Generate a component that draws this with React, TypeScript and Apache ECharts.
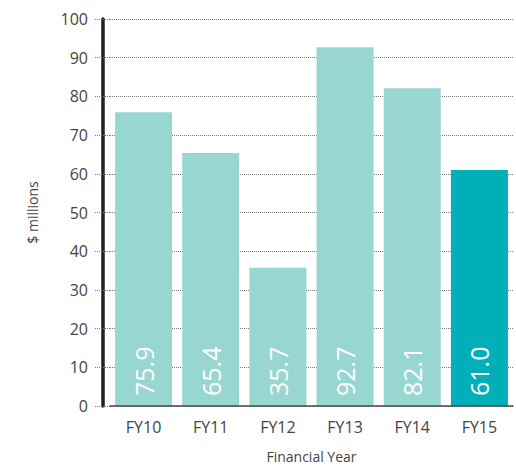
import React, { useEffect, useRef } from "react";
import * as echarts from "echarts";

const categories = ["FY10", "FY11", "FY12", "FY13", "FY14", "FY15"];
const values = [75.9, 65.4, 35.7, 92.7, 82.1, 61.0];
const barColors = ["#98d6d1", "#98d6d1", "#98d6d1", "#98d6d1", "#98d6d1", "#00afb8"];
const yTicks = { min: 0, max: 100, interval: 10 };

export default function App() {
  const ref = useRef<HTMLDivElement>(null);
  useEffect(() => {
    if (!ref.current) return;
    const chart = echarts.init(ref.current, undefined, { renderer: "svg" });
    const font = "'Open Sans', sans-serif";
    chart.setOption({
      animation: false,
      grid: { left: 110, right: 3, top: 19, bottom: 61 },
      xAxis: {
        type: "category",
        data: categories,
        axisLine: { show: true, lineStyle: { color: "#4a4a4a", width: 1.5 } },
        axisTick: { show: false },
        axisLabel: { color: "#444", fontSize: 16, fontFamily: font, margin: 13 },
        name: "Financial Year",
        nameLocation: "middle",
        nameGap: 43,
        nameTextStyle: { color: "#444", fontSize: 14, fontFamily: font },
        z: 5,
      },
      yAxis: [
        {
          type: "value",
          min: yTicks.min,
          max: yTicks.max,
          interval: yTicks.interval,
          axisLine: { show: false },
          axisTick: { show: true, length: 15, lineStyle: { color: "#777", type: [1, 1], width: 1 } },
          axisLabel: { color: "#444", fontSize: 16, fontFamily: font, margin: 22 },
          splitLine: { show: true, lineStyle: { color: "#777", type: [1, 1], width: 1 } },
        },
        {
          type: "value",
          position: "left",
          offset: 7,
          min: yTicks.min,
          max: yTicks.max,
          interval: yTicks.interval,
          axisLine: { show: true, lineStyle: { color: "#222", width: 3.5 } },
          axisTick: { show: false },
          axisLabel: { show: false },
          splitLine: { show: false },
          name: "$ millions",
          nameLocation: "middle",
          nameGap: 64,
          nameTextStyle: { color: "#444", fontSize: 14, fontFamily: font },
        },
      ],
      series: [
        {
          type: "bar",
          yAxisIndex: 0,
          barWidth: 57,
          data: values.map((v, i) => ({ value: v, itemStyle: { color: barColors[i] } })),
          label: {
            show: true,
            position: "insideBottom",
            rotate: 90,
            align: "left",
            verticalAlign: "middle",
            distance: 10,
            color: "#fff",
            fontSize: 25,
            fontFamily: font,
            formatter: (p: any) => Number(p.value).toFixed(1),
          },
        },
      ],
    });
    return () => chart.dispose();
  }, []);
  return <div ref={ref} style={{ width: 516, height: 468, position: "absolute", left: 0, top: 0 }} />;
}
